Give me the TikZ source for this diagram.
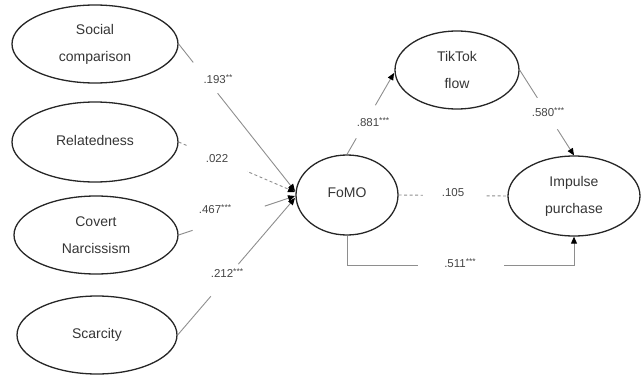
\documentclass[tikz,border=0pt]{standalone}
\usepackage{fontspec}
\setmainfont{Liberation Sans}
\usetikzlibrary{shapes.geometric,arrows.meta}
\definecolor{linegray}{HTML}{8E8E8E}
\definecolor{txtgray}{HTML}{353535}
\definecolor{lblgray}{HTML}{454545}
\newcommand\stars[1]{\raisebox{2.6pt}{\fontsize{8.5}{8.5}\selectfont #1}}
\begin{document}
\begin{tikzpicture}[x=1pt,y=-1pt,
  latent/.style={ellipse, draw=black!85, line width=1.3pt, inner sep=0pt, align=center,
    text=txtgray, font=\fontsize{14}{27}\selectfont},
  conn/.style={draw=linegray, line width=0.9pt},
  arr/.style={conn, -{Triangle[length=7pt,width=6pt,color=black]}},
  dashconn/.style={conn, dash pattern=on 3pt off 2.5pt},
  gapnode/.style={sloped, fill=white, inner sep=0pt, minimum width=#1, minimum height=4pt},
  coef/.style={text=lblgray, font=\fontsize{11.5}{12}\selectfont, inner sep=1pt},
]
\useasboundingbox (0,0) rectangle (641,375);
% latent variables
\node[latent, minimum width=166pt, minimum height=78pt] (sc)  at (95,44)  {Social\\comparison};
\node[latent, minimum width=166pt, minimum height=80pt] (rel) at (95,142) {\raisebox{4pt}{Relatedness}};
\node[latent, minimum width=164pt, minimum height=78pt] (cn)  at (96,235) {Covert\\Narcissism};
\node[latent, minimum width=160pt, minimum height=78pt] (sca) at (97,335) {\raisebox{4pt}{Scarcity}};
\node[latent, minimum width=102pt, minimum height=80pt] (fomo) at (347,195) {\raisebox{4pt}{FoMO}};
\node[latent, minimum width=124pt, minimum height=78pt] (tt)  at (457,70)  {TikTok\\flow};
\node[latent, minimum width=132pt, minimum height=80pt] (imp) at (574,196) {Impulse\\purchase};
% arrow end points at FoMO
\coordinate (f1) at (295,191);
\coordinate (f2) at (295,192);
\coordinate (f3) at (295,196);
\coordinate (f4) at (295,198);
\coordinate (t1) at (394,73);
% connectors
\draw[arr] (sc.east) -- node[gapnode=39pt, pos=0.23]{} (f1);
\draw[arr, dashconn] (rel.east) -- node[gapnode=65pt, pos=0.333]{} (f2);
\draw[arr] (cn.east) -- node[gapnode=76pt, pos=0.43]{} (f3);
\draw[arr] (sca.east) -- node[gapnode=42pt, pos=0.40]{} (f4);
\draw[arr] (fomo.north) -- node[gapnode=38pt, pos=0.40]{} (t1);
\draw[arr] (tt.east) -- node[gapnode=37pt, pos=0.51]{} (imp.north);
\draw[dashconn] (fomo.east) -- node[gapnode=62pt, pos=0.51]{} (imp.west);
\draw[arr] (fomo.south) -- ++(0,30) -| node[gapnode=86pt, pos=0.25]{} (imp.south);
% coefficients
\node[coef] (c1) at (218,79)  {.193\stars{**}};
\node[coef] (c2) at (217,159) {.022};
\node[coef] (c3) at (215,209) {.467\stars{***}};
\node[coef] (c4) at (227,273) {.212\stars{***}};
\node[coef] (c5) at (373,122) {.881\stars{***}};
\node[coef] (c6) at (548,112) {.580\stars{***}};
\node[coef] (c7) at (453,193) {.105};
\node[coef] (c8) at (460,263) {.511\stars{***}};
\end{tikzpicture}
\end{document}
